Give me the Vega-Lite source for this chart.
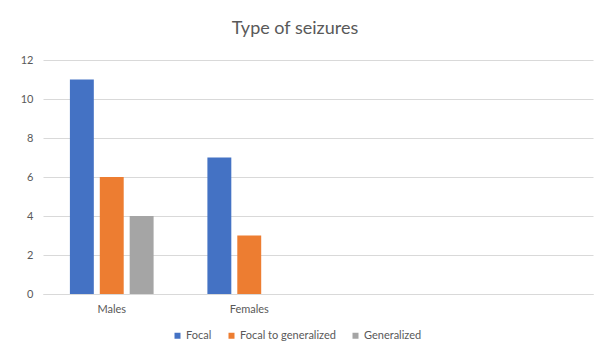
{
  "$schema": "https://vega.github.io/schema/vega-lite/v6.json",
  "autosize": {"type": "none"},
  "width": 550,
  "height": 234,
  "padding": {"left": 43, "top": 60, "right": 10, "bottom": 57},
  "background": "white",
  "title": {
    "text": "Type of seizures",
    "font": "Lato",
    "fontSize": 18,
    "fontWeight": "normal",
    "color": "#595959",
    "anchor": "middle",
    "frame": "group",
    "dx": -23,
    "offset": 16
  },
  "data": {
    "values": [
      {"sex": "Males", "type": "Focal", "count": 11},
      {"sex": "Males", "type": "Focal to generalized", "count": 6},
      {"sex": "Males", "type": "Generalized", "count": 4},
      {"sex": "Females", "type": "Focal", "count": 7},
      {"sex": "Females", "type": "Focal to generalized", "count": 3}
    ]
  },
  "mark": {"type": "bar"},
  "encoding": {
    "x": {
      "field": "sex",
      "type": "nominal",
      "sort": null,
      "scale": {"domain": ["Males", "Females", "c3", "c4"], "paddingInner": 0, "paddingOuter": 0},
      "axis": {
        "title": null,
        "labelAngle": 0,
        "labelExpr": "datum.value == 'Males' || datum.value == 'Females' ? datum.value : ''",
        "ticks": false,
        "domain": true,
        "domainColor": "#d9d9d9",
        "labelFont": "Lato",
        "labelFontSize": 11,
        "labelColor": "#595959",
        "labelPadding": 9
      }
    },
    "xOffset": {
      "field": "type",
      "type": "nominal",
      "scale": {"domain": ["Focal", "Focal to generalized", "Generalized"], "paddingInner": 0.2, "paddingOuter": 0.9}
    },
    "y": {
      "field": "count",
      "type": "quantitative",
      "scale": {"domain": [0, 12]},
      "axis": {
        "title": null,
        "values": [0, 2, 4, 6, 8, 10, 12],
        "domain": false,
        "ticks": false,
        "gridColor": "#d9d9d9",
        "labelFont": "Lato",
        "labelFontSize": 11,
        "labelColor": "#595959",
        "labelPadding": 10
      }
    },
    "color": {
      "field": "type",
      "type": "nominal",
      "scale": {"domain": ["Focal", "Focal to generalized", "Generalized"], "range": ["#4472C4", "#ED7D31", "#A5A5A5"]},
      "legend": {
        "title": null,
        "orient": "none",
        "direction": "horizontal",
        "legendX": 129,
        "legendY": 270,
        "symbolType": "square",
        "symbolSize": 36,
        "symbolStrokeWidth": 0,
        "labelFont": "Lato",
        "labelFontSize": 11,
        "labelColor": "#595959",
        "labelOffset": 3,
        "columnPadding": 14
      }
    }
  },
  "config": {"view": {"stroke": null}}
}
